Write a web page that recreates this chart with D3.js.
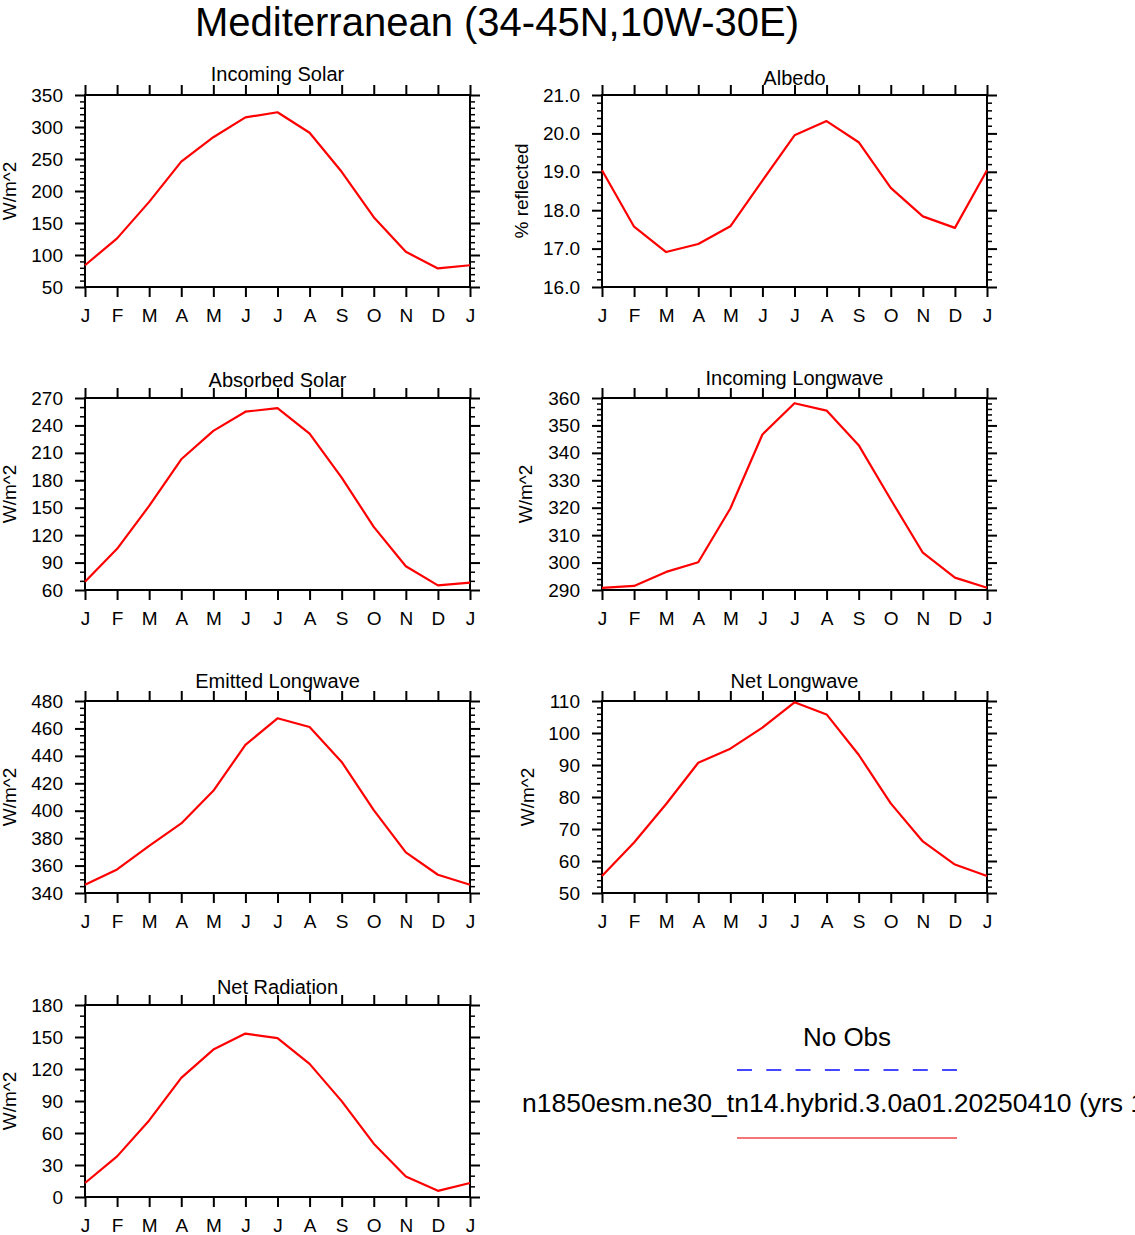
<!DOCTYPE html>
<html>
<head>
<meta charset="utf-8">
<script src="https://cdn.jsdelivr.net/npm/d3@7"></script>
<style>
  body { margin: 0; background: #fff; }
  text { font-family: "Liberation Sans", Arial, Helvetica, sans-serif; fill: #000; }
</style>
</head>
<body>
<div id="main"></div>
<script>
// month labels (Jan..Dec plus the wrap-around Jan)
const months = ["J", "F", "M", "A", "M", "J", "J", "A", "S", "O", "N", "D", "J"];

// monthly series (13 points, last repeats January)
const incomingSolar = [84, 126, 183, 246, 284, 315, 323, 291, 230, 159, 105, 79, 84];
const albedo = [19.04, 17.57, 16.91, 17.12, 17.58, 18.77, 19.95, 20.32, 19.77, 18.58, 17.84, 17.54, 19.04];
const absorbedSolar = [69, 105, 152, 203, 234, 255, 259, 231, 183, 129, 86, 65, 68];
const incomingLW = [290.8, 291.5, 296.6, 300.1, 319.7, 346.7, 358.1, 355.4, 342.8, 323.0, 303.6, 294.5, 290.8];
const emittedLW = [346, 357.2, 374.4, 390.7, 414.5, 448, 467.4, 461, 435.6, 400.4, 369.6, 353.3, 346];
const netLW = [55.3, 65.8, 77.8, 90.7, 95.1, 101.7, 109.6, 105.8, 93.2, 78.0, 66.1, 58.9, 55.3];
const netRadiation = [13.1, 38.1, 71.8, 111.7, 138.2, 153.2, 149, 124.8, 89.9, 50, 19.2, 5.8, 13.1];

// y tick labels per panel
const ticksIncomingSolar = [50, 100, 150, 200, 250, 300, 350];
const ticksAlbedo = [16, 17, 18, 19, 20, 21];
const ticksAbsorbed = [60, 90, 120, 150, 180, 210, 240, 270];
const ticksIncomingLW = [290, 300, 310, 320, 330, 340, 350, 360];
const ticksEmittedLW = [340, 360, 380, 400, 420, 440, 460, 480];
const ticksNetLW = [50, 60, 70, 80, 90, 100, 110];
const ticksNetRad = [0, 30, 60, 90, 120, 150, 180];

const chartTitle = "Mediterranean (34-45N,10W-30E)";
const legendObs = "No Obs";
const legendModel = "n1850esm.ne30_tn14.hybrid.3.0a01.20250410 (yrs 1";

class ClimoPanels {
    constructor({ width = 1135, height = 1235 } = {}) {
        this.w = width;
        this.h = height;
        this.svg = null;
        this.pw = 385;
        this.ph = 192;
    }

    createSvg(selector) {
        this.svg = d3.select(selector)
            .append("svg")
            .attr("width", this.w)
            .attr("height", this.h);
    }

    drawPanel({ left, top, title, titleGap, values, ticks, minor, ylabel, ylabelX, fmt }) {
        const width = this.pw;
        const height = this.ph;

        const xScale = d3.scalePoint()
            .domain(d3.range(months.length))
            .range([0, width]);

        const yScale = d3.scaleLinear()
            .domain([ticks[0], ticks[ticks.length - 1]])
            .range([height, 0]);

        const g = this.svg.append("g")
            .attr("transform", `translate(${left},${top})`);

        const minorTicks = d3.range(ticks[0], ticks[ticks.length - 1] + minor / 2, minor)
            .filter(v => !ticks.some(t => Math.abs(t - v) < minor / 100));

        // minor ticks, left and right
        g.append("g").attr("class", "minor")
            .call(d3.axisLeft(yScale).tickValues(minorTicks).tickSize(5).tickFormat(""));
        g.append("g").attr("class", "minor")
            .attr("transform", `translate(${width},0)`)
            .call(d3.axisRight(yScale).tickValues(minorTicks).tickSize(5).tickFormat(""));

        // major y ticks
        g.append("g").attr("class", "major ylab")
            .call(d3.axisLeft(yScale).tickValues(ticks).tickSize(10).tickPadding(12).tickFormat(fmt));
        g.append("g").attr("class", "major")
            .attr("transform", `translate(${width},0)`)
            .call(d3.axisRight(yScale).tickValues(ticks).tickSize(10).tickFormat(""));

        // month ticks
        g.append("g").attr("class", "major xlab")
            .attr("transform", `translate(0,${height})`)
            .call(d3.axisBottom(xScale).tickSize(10).tickPadding(12).tickFormat(i => months[i]));
        g.append("g").attr("class", "major")
            .call(d3.axisTop(xScale).tickSize(10).tickFormat(""));

        g.selectAll(".domain").remove();
        g.selectAll(".minor line").attr("stroke-width", 1.5);
        g.selectAll(".major line").attr("stroke-width", 2);
        g.selectAll(".ylab text").style("font-size", "19px").attr("font-family", null);
        g.selectAll(".xlab text").style("font-size", "19px").attr("font-family", null);

        // frame
        g.append("rect")
            .attr("width", width)
            .attr("height", height)
            .attr("fill", "none")
            .attr("stroke", "#000")
            .attr("stroke-width", 2);

        const line = d3.line()
            .x((d, i) => xScale(i))
            .y(d => yScale(d));

        g.append("path")
            .datum(values)
            .attr("d", line)
            .attr("fill", "none")
            .attr("stroke", "red")
            .attr("stroke-width", 2.2)
            .attr("stroke-linejoin", "round");

        g.append("text")
            .attr("x", width / 2)
            .attr("y", -titleGap)
            .attr("text-anchor", "middle")
            .attr("dy", "0.35em")
            .style("font-size", "20px")
            .text(title);

        g.append("text")
            .attr("transform", `translate(${ylabelX},${height / 2}) rotate(-90)`)
            .attr("text-anchor", "middle")
            .attr("dy", "0.35em")
            .style("font-size", "19px")
            .text(ylabel);
    }

    drawLegend() {
        const cx = 847;
        const xs = d3.scaleLinear().domain([0, 1]).range([737, 957]);

        this.svg.append("text")
            .attr("x", cx)
            .attr("y", 1046)
            .attr("text-anchor", "middle")
            .style("font-size", "26px")
            .text(legendObs);

        this.svg.append("line")
            .attr("x1", xs(0)).attr("x2", xs(1))
            .attr("y1", 1070).attr("y2", 1070)
            .attr("stroke", "#4646ff")
            .attr("stroke-width", 2)
            .attr("stroke-dasharray", "15,14.3");

        this.svg.append("text")
            .attr("x", 522)
            .attr("y", 1112)
            .style("font-size", "26.5px")
            .text(legendModel);

        this.svg.append("line")
            .attr("x1", xs(0)).attr("x2", xs(1))
            .attr("y1", 1138).attr("y2", 1138)
            .attr("stroke", "#f04848")
            .attr("stroke-width", 1.6);
    }

    run(selector) {
        this.createSvg(selector);

        this.svg.append("text")
            .attr("x", 497)
            .attr("y", 36)
            .attr("text-anchor", "middle")
            .style("font-size", "40px")
            .text(chartTitle);

        const L = 85, R = 602;
        const rows = [95, 398, 701, 1005];
        const f0 = d3.format("d");

        this.drawPanel({ left: L, top: rows[0], title: "Incoming Solar", titleGap: 21, values: incomingSolar,
            ticks: ticksIncomingSolar, minor: 10, ylabel: "W/m^2", ylabelX: -76, fmt: f0 });
        this.drawPanel({ left: R, top: rows[0], title: "Albedo", titleGap: 17, values: albedo,
            ticks: ticksAlbedo, minor: 0.2, ylabel: "% reflected", ylabelX: -81, fmt: d3.format(".1f") });
        this.drawPanel({ left: L, top: rows[1], title: "Absorbed Solar", titleGap: 18, values: absorbedSolar,
            ticks: ticksAbsorbed, minor: 10, ylabel: "W/m^2", ylabelX: -76, fmt: f0 });
        this.drawPanel({ left: R, top: rows[1], title: "Incoming Longwave", titleGap: 20, values: incomingLW,
            ticks: ticksIncomingLW, minor: 2, ylabel: "W/m^2", ylabelX: -77, fmt: f0 });
        this.drawPanel({ left: L, top: rows[2], title: "Emitted Longwave", titleGap: 20, values: emittedLW,
            ticks: ticksEmittedLW, minor: 5, ylabel: "W/m^2", ylabelX: -76, fmt: f0 });
        this.drawPanel({ left: R, top: rows[2], title: "Net Longwave", titleGap: 20, values: netLW,
            ticks: ticksNetLW, minor: 2, ylabel: "W/m^2", ylabelX: -75, fmt: f0 });
        this.drawPanel({ left: L, top: rows[3], title: "Net Radiation", titleGap: 18, values: netRadiation,
            ticks: ticksNetRad, minor: 10, ylabel: "W/m^2", ylabelX: -76, fmt: f0 });

        this.drawLegend();
    }
}

window.onload = () => {
    const app = new ClimoPanels({ width: 1135, height: 1235 });
    app.run("#main");
};
</script>
</body>
</html>
